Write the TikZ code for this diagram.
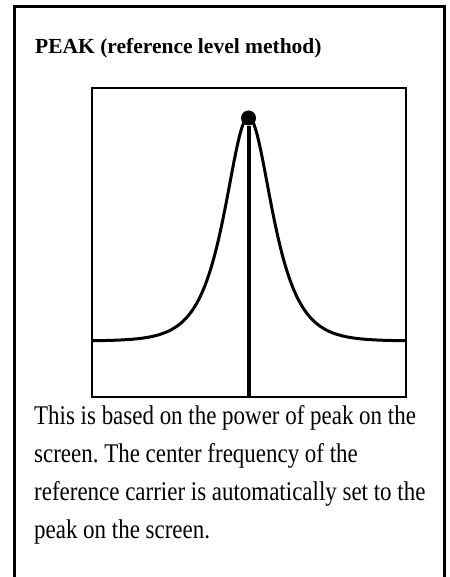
\documentclass[tikz,border=0pt]{standalone}
\usepackage{fontspec}
\setmainfont{Liberation Serif}
\newfontfamily\bodyfont[FakeStretch=0.85]{Liberation Serif}

\begin{document}
\begin{tikzpicture}[x=1pt, y=-1pt,
        frame/.style={line width=3pt},
        screen/.style={line width=2pt},
        trace/.style={line width=3pt, line join=round},
        marker/.style={circle, fill=black, inner sep=0pt, minimum size=15pt}]
    \useasboundingbox (0,0) rectangle (449,577);

    \draw[frame] (14,580) -- (14,6.5) -- (444.7,6.5) -- (444.7,580);
    \node[font=\bfseries\fontsize{21.5}{26}\selectfont, anchor=base west, inner sep=0pt] (title) at (35,54) {PEAK (reference level method)};

    \draw[screen] (92,88) rectangle (406,397);
    \node[marker] (peak) at (248.5,118) {};
    \coordinate (bottom) at (248.5,397);

    % spectrum trace
    \draw[trace] plot[domain=-156.5:157.5, samples=240] ({248.5+\x}, {341-224/cosh(\x/21)});
    \draw[line width=4pt] (peak) -- (bottom);

    \node[font=\bodyfont\fontsize{27}{38}\selectfont\frenchspacing, anchor=north west, inner sep=0pt, align=left] (desc) at (34,405)
        {This is based on the power of peak on the\\ screen. The center frequency of the\\ reference carrier is automatically set to the\\ peak on the screen.};
\end{tikzpicture}
\end{document}
